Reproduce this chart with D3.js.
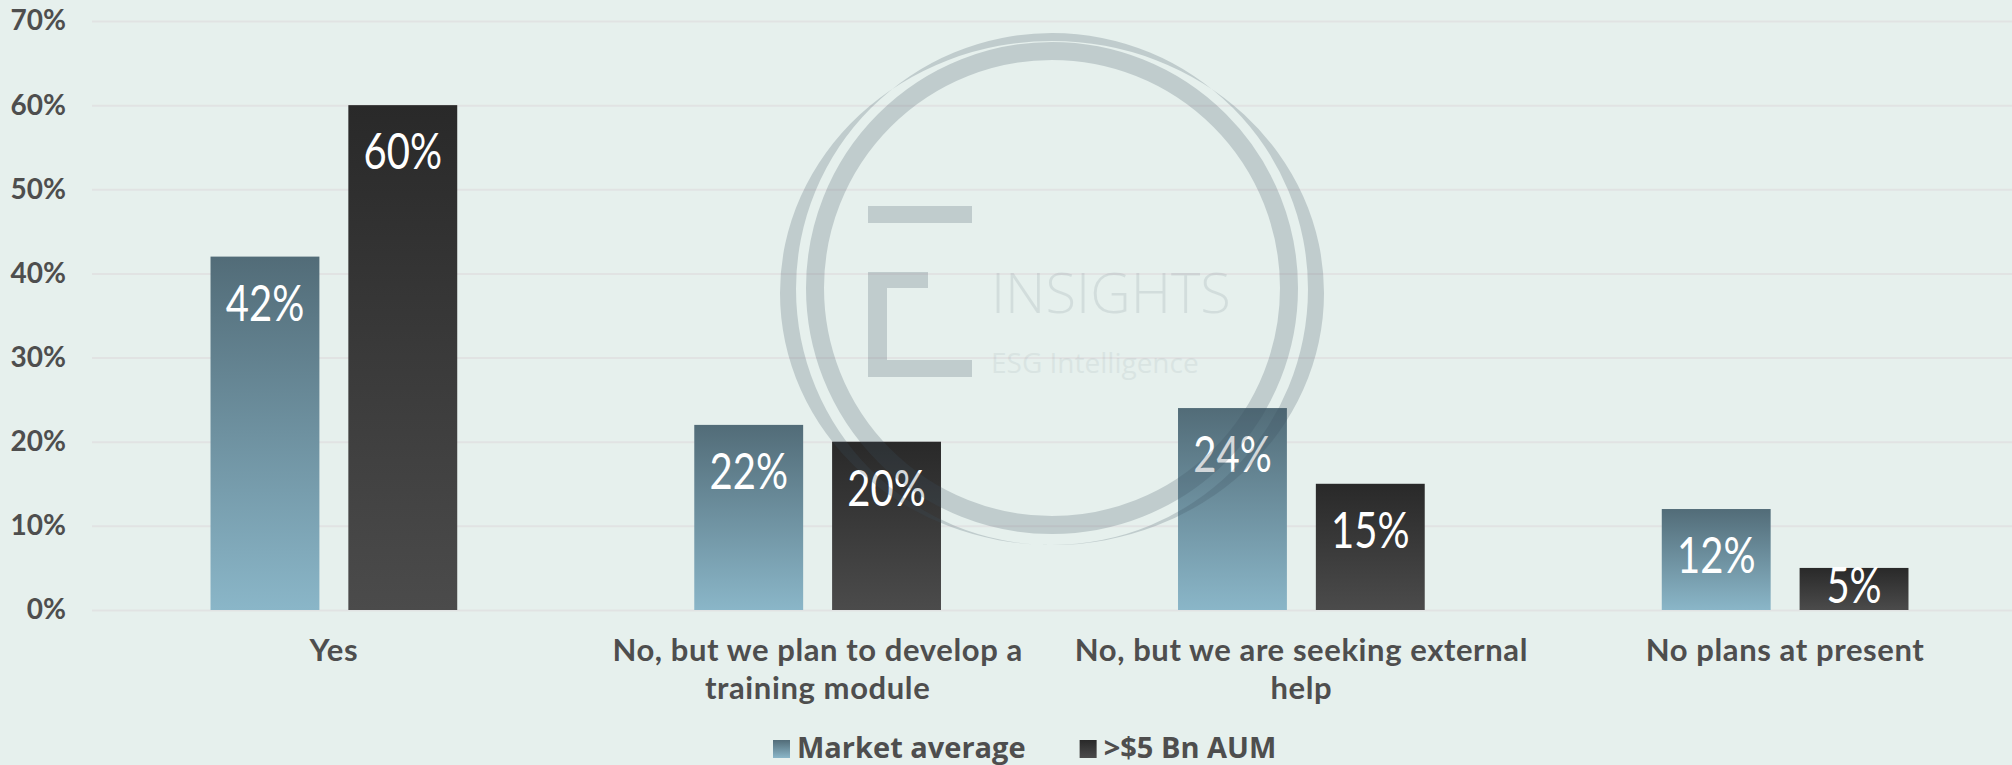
<!DOCTYPE html>
<html>
<head>
<meta charset="utf-8">
<script src="https://cdn.jsdelivr.net/npm/d3@7"></script>
<style>
  html, body { margin: 0; padding: 0; background: #e6f0ed; }
  #chart svg { display: block; }
</style>
</head>
<body>
<div id="chart"></div>
<script>
// data
const categories = ["Yes", "No, but we plan to develop a training module", "No, but we are seeking external help", "No plans at present"];
const categoryLines = [["Yes"], ["No, but we plan to develop a", "training module"], ["No, but we are seeking external", "help"], ["No plans at present"]];
const series = ["Market average", ">$5 Bn AUM"];
const marketAverage = [42, 22, 24, 12];
const over5bn = [60, 20, 15, 5];
const yTicks = [0, 10, 20, 30, 40, 50, 60, 70];

const rows = categories.map((c, i) => ({ cat: c, values: [marketAverage[i], over5bn[i]] }));

// dimensions
const W = 2012, H = 765;
const plotLeft = 92, plotRight = 2027, plotTop = 21, plotBottom = 610;

const svg = d3.select("#chart").append("svg")
  .attr("width", W)
  .attr("height", H);

const defs = svg.append("defs");
const gMarket = defs.append("linearGradient").attr("id", "gradMarket")
  .attr("x1", 0).attr("y1", 0).attr("x2", 0).attr("y2", 1);
gMarket.append("stop").attr("offset", "0%").attr("stop-color", "#526c78");
gMarket.append("stop").attr("offset", "100%").attr("stop-color", "#8ab6c8");
const gDark = defs.append("linearGradient").attr("id", "gradDark")
  .attr("x1", 0).attr("y1", 0).attr("x2", 0).attr("y2", 1);
gDark.append("stop").attr("offset", "0%").attr("stop-color", "#292929");
gDark.append("stop").attr("offset", "100%").attr("stop-color", "#4b4b4b");
const fills = ["url(#gradMarket)", "url(#gradDark)"];

// scales
const x0 = d3.scaleBand().domain(categories).range([plotLeft, plotRight]).padding(0);
const groupW = x0.bandwidth() * 0.51;
const x1 = d3.scaleBand().domain(series)
  .range([(x0.bandwidth() - groupW) / 2, (x0.bandwidth() + groupW) / 2])
  .paddingInner(0.21);
const y = d3.scaleLinear().domain([0, 70]).range([plotBottom, plotTop]);

// gridlines
const grid = svg.append("g")
  .attr("transform", "translate(" + plotLeft + ",0)")
  .call(d3.axisLeft(y).tickValues(yTicks).tickSize(-(plotRight - plotLeft)).tickFormat(""));
grid.select(".domain").remove();
grid.selectAll("line").attr("stroke", "#e1e3e3").attr("stroke-width", 2);

// y axis labels
const yAxis = svg.append("g")
  .attr("transform", "translate(" + plotLeft + ",0)")
  .call(d3.axisLeft(y).tickValues(yTicks).tickSize(0).tickPadding(26).tickFormat(d => d + "%"));
yAxis.select(".domain").remove();
yAxis.selectAll("text")
  .style("font-family", "Lato, sans-serif")
  .style("font-weight", "bold")
  .style("font-size", "28px")
  .attr("fill", "#4e4e4e");

// bars
const groups = svg.append("g").selectAll("g")
  .data(rows)
  .enter().append("g")
  .attr("transform", d => "translate(" + x0(d.cat) + ",0)");

groups.selectAll("rect")
  .data(d => d.values.map((v, i) => ({ key: series[i], v: v, i: i })))
  .enter().append("rect")
  .attr("x", d => x1(d.key))
  .attr("y", d => y(d.v))
  .attr("width", x1.bandwidth())
  .attr("height", d => y(0) - y(d.v))
  .attr("fill", d => fills[d.i]);

// value labels
groups.selectAll("text.val")
  .data(d => d.values.map((v, i) => ({ key: series[i], v: v, i: i })))
  .enter().append("text")
  .attr("class", "val")
  .attr("transform", d => {
    const cx = x1(d.key) + x1.bandwidth() / 2;
    const by = Math.min(y(d.v) + 64, y(0) - 7);
    return "translate(" + cx + "," + by + ") scale(0.8,1)";
  })
  .attr("text-anchor", "middle")
  .style("font-family", "Lato, sans-serif")
  .style("font-size", "50px")
  .attr("fill", "#ffffff")
  .text(d => d.v + "%");

// category labels, one text per line
rows.forEach((r, i) => {
  categoryLines[i].forEach((line, j) => {
    svg.append("text")
      .attr("x", x0(r.cat) + x0.bandwidth() / 2)
      .attr("y", 661 + j * 37.5)
      .attr("text-anchor", "middle")
      .style("font-family", "Lato, sans-serif")
      .style("font-weight", "bold")
      .style("font-size", "31px")
      .style("letter-spacing", "0.6px")
      .attr("fill", "#4e4e4e")
      .text(line);
  });
});

// watermark (drawn on top, semi transparent)
const wm = svg.append("g").attr("opacity", 0.22).attr("fill", "rgb(60,80,95)");
const cx = 1052, cy = 289;
function ellipsePath(ex, ey, rx, ry) {
  return "M" + (ex - rx) + "," + ey +
    "a" + rx + "," + ry + " 0 1,0 " + (2 * rx) + ",0" +
    "a" + rx + "," + ry + " 0 1,0 " + (-2 * rx) + ",0Z";
}
// outer crescent
wm.append("path")
  .attr("fill-rule", "evenodd")
  .attr("d", ellipsePath(cx, cy + 4, 272, 252) + ellipsePath(cx, cy, 256, 256));
wm.append("circle")
  .attr("cx", cx).attr("cy", cy - 1).attr("r", 237)
  .attr("fill", "none")
  .attr("stroke", "rgb(60,80,95)")
  .attr("stroke-width", 18);
// bracket logo
wm.append("rect").attr("x", 868).attr("y", 206).attr("width", 104).attr("height", 17);
wm.append("path")
  .attr("d", "M868,272H928V288H887V360H972V377H868Z");

const wmText = svg.append("g").attr("fill", "rgb(60,80,95)");
wmText.append("text")
  .attr("x", 991).attr("y", 313)
  .attr("opacity", 0.11)
  .style("font-family", "'Open Sans', sans-serif")
  .style("font-weight", 300)
  .style("font-size", "56px")
  .text("INSIGHTS");
wmText.append("text")
  .attr("x", 991).attr("y", 373)
  .attr("opacity", 0.07)
  .style("font-family", "'Open Sans', sans-serif")
  .style("font-size", "28px")
  .text("ESG Intelligence");

// legend
const legend = svg.append("g");
let lx = 773;
series.forEach((s, i) => {
  legend.append("rect")
    .attr("x", lx).attr("y", 740)
    .attr("width", 17).attr("height", 18)
    .attr("fill", fills[i]);
  const t = legend.append("text")
    .attr("x", lx + 24).attr("y", 758)
    .style("font-family", "'Open Sans', sans-serif")
    .style("font-weight", "bold")
    .style("font-size", "29px")
    .attr("fill", "#4e4e4e")
    .text(s);
  lx += 24 + t.node().getComputedTextLength() + 54;
});
</script>
</body>
</html>
